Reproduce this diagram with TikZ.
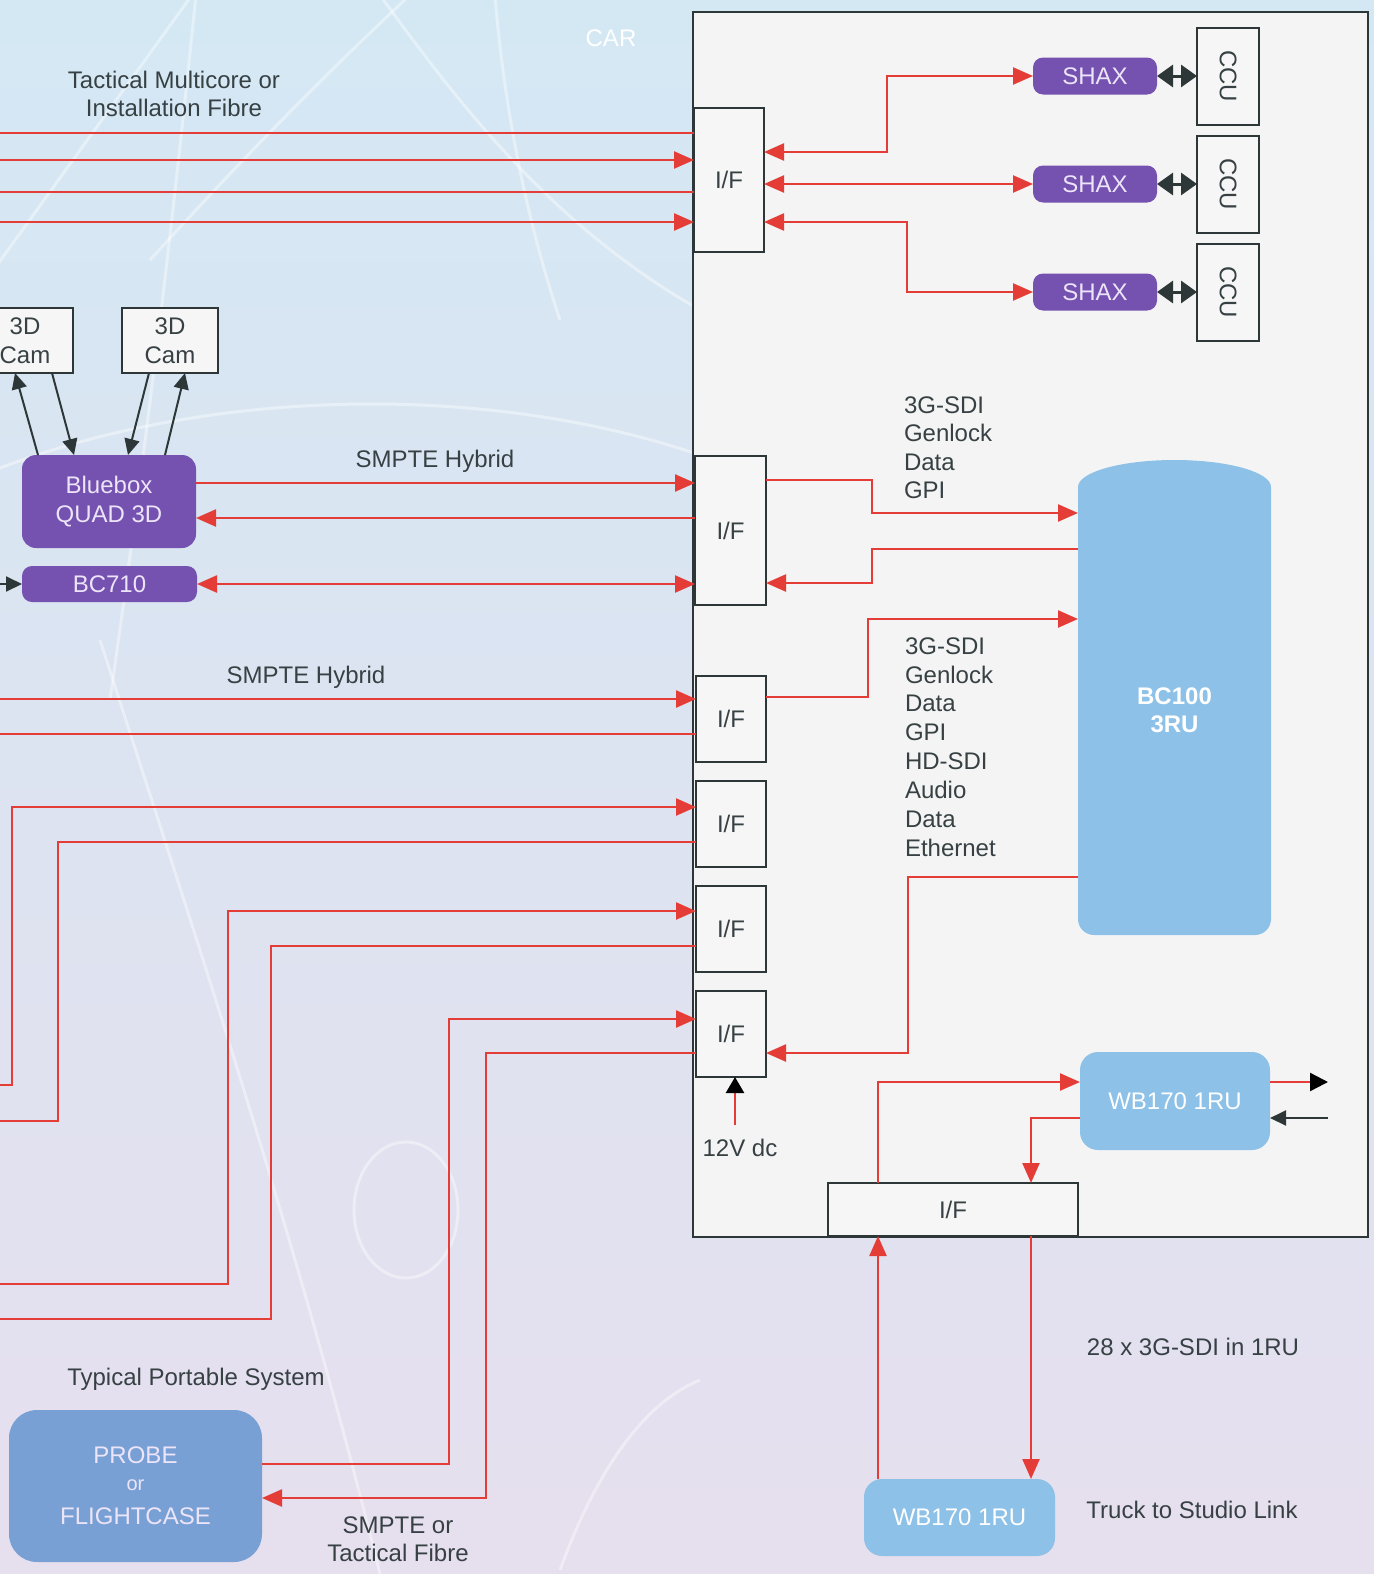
\documentclass[tikz,border=0pt]{standalone}
\usepackage{fontspec}
\setmainfont{Liberation Sans}
\usetikzlibrary{arrows.meta,calc,positioning}
\definecolor{linered}{RGB}{228,60,55}
\definecolor{boxline}{RGB}{45,55,55}
\definecolor{boxfill}{RGB}{246,246,246}
\definecolor{carfill}{RGB}{244,244,244}
\definecolor{shaxpurple}{RGB}{117,81,176}
\definecolor{paletext}{RGB}{236,228,248}
\definecolor{unitblue}{RGB}{141,193,231}
\definecolor{probeblue}{RGB}{121,160,212}
\definecolor{labeltext}{RGB}{55,65,68}
\definecolor{bgtop}{RGB}{212,232,244}
\definecolor{bgbottom}{RGB}{230,223,238}

\begin{document}
\begin{tikzpicture}[x=0.5pt, y=-0.5pt,
  every node/.style={font=\fontsize{12}{14.25}\selectfont, inner sep=0pt, outer sep=0pt},
  ifbox/.style={draw=boxline, fill=boxfill, line width=1pt, text=labeltext},
  shaxbox/.style={fill=shaxpurple, text=paletext, rounded corners=5pt, minimum width=62pt, minimum height=18.5pt},
  ccubox/.style={draw=boxline, fill=boxfill, line width=1pt, text=labeltext, minimum width=31pt, minimum height=48.5pt},
  cambox/.style={draw=boxline, fill=boxfill, line width=1pt, text=labeltext, align=center, minimum width=48pt, minimum height=32.5pt},
  unitbox/.style={fill=unitblue, text=white, rounded corners=9pt, align=center},
  caption/.style={text=labeltext, align=center},
  sigline/.style={draw=linered, line width=1.2pt},
  ctlline/.style={draw=boxline, line width=1pt},
  bgcurve/.style={draw=white, opacity=0.4, line width=1.5pt},
  rtip/.tip={Triangle[length=10pt,width=8.5pt]},
  btip/.tip={Triangle[length=8pt,width=7.5pt]},
  dtip/.tip={Triangle[length=8pt,width=11pt]}
]
\useasboundingbox (0,0) rectangle (1374,1574);
\clip (0,0) rectangle (1374,1574);
\shade[top color=bgtop, bottom color=bgbottom] (0,0) rectangle (1374,1574);

% background strokes
\draw[bgcurve] (196,-5) .. controls (175,200) and (150,420) .. (110,700);
\draw[bgcurve] (192,-5) -- (-5,268);
\draw[bgcurve] (380,-5) .. controls (470,120) and (560,230) .. (700,310);
\draw[bgcurve] (410,-5) .. controls (330,70) and (250,150) .. (150,260);
\draw[bgcurve] (495,-5) .. controls (505,120) and (530,230) .. (560,320);
\draw[bgcurve] (-5,470) .. controls (200,390) and (480,380) .. (700,455);
\draw[bgcurve] (100,640) .. controls (200,950) and (300,1250) .. (380,1574);
\draw[bgcurve] (406,1210) ellipse [x radius=52, y radius=68];
\draw[bgcurve] (560,1570) .. controls (600,1460) and (650,1400) .. (700,1380);

\node[draw=boxline, fill=carfill, line width=1pt, minimum width=337.5pt, minimum height=612.5pt] (car) at (1030.5,624.5) {};
\node[text=white] (carLabel) at (611,38) {CAR};

\node[ifbox, minimum width=35pt, minimum height=72pt] (ifA) at (729,180) {I/F};
\node[ifbox, minimum width=35.5pt, minimum height=74.5pt] (ifB) at (730.5,530.5) {I/F};
\node[ifbox, minimum width=35pt, minimum height=43pt] (ifC) at (731,719) {I/F};
\node[ifbox, minimum width=35pt, minimum height=43pt, below=9.5pt of ifC] (ifD) {I/F};
\node[ifbox, minimum width=35pt, minimum height=43pt, below=9.5pt of ifD] (ifE) {I/F};
\node[ifbox, minimum width=35pt, minimum height=43pt, below=9.5pt of ifE] (ifF) {I/F};
\node[ifbox, minimum width=125pt, minimum height=26.5pt] (ifG) at (953,1209.5) {I/F};

\node[shaxbox] (shaxA) at (1095,76) {SHAX};
\node[shaxbox, below=35.5pt of shaxA] (shaxB) {SHAX};
\node[shaxbox, below=35.5pt of shaxB] (shaxC) {SHAX};
\node[ccubox, right=20pt of shaxA] (ccuA) {\rotatebox{-90}{CCU}};
\node[ccubox, right=20pt of shaxB] (ccuB) {\rotatebox{-90}{CCU}};
\node[ccubox, right=20pt of shaxC] (ccuC) {\rotatebox{-90}{CCU}};

\node[cambox] (camA) at (25,340.5) {3D\\Cam};
\node[cambox, right=24.5pt of camA] (camB) {3D\\Cam};
\node[fill=shaxpurple, text=paletext, rounded corners=7pt, align=center, minimum width=87pt, minimum height=46.5pt] (bluebox) at (109,501.5) {Bluebox\\QUAD 3D};
\node[shaxbox, minimum width=87.5pt, minimum height=18pt] (bcSeven) at (109.5,584) {BC710};

\fill[unitblue] (1078,487) arc[start angle=180, end angle=360, x radius=96.5, y radius=27] -- (1271,919) arc[start angle=0, end angle=90, radius=16] -- (1094,935) arc[start angle=90, end angle=180, radius=16] -- cycle;
\node[text=white, align=center, font=\bfseries\fontsize{12}{14.25}\selectfont, minimum width=96.5pt, minimum height=225pt] (bcHundred) at (1174.5,710) {BC100\\3RU};
\node[unitbox, minimum width=95pt, minimum height=49pt] (wbTop) at (1175,1101) {WB170 1RU};
\node[unitbox, minimum width=95.5pt, minimum height=38.5pt] (wbBottom) at (959.5,1517.5) {WB170 1RU};
\node[unitbox, fill=probeblue, text=paletext, rounded corners=14pt, minimum width=126.5pt, minimum height=76pt] (probe) at (135.5,1486) {PROBE\\[-1pt]{\fontsize{10}{12}\selectfont or}\\[3pt]FLIGHTCASE};

\node[caption] (fibreTop) at (174,94) {Tactical Multicore or\\Installation Fibre};
\node[caption] (hybridTop) at (435,461) {SMPTE Hybrid};
\node[caption] (hybridLow) at (306,677) {SMPTE Hybrid};
\node[caption, align=left, anchor=west] (sigListA) at (904,447.5) {3G-SDI\\Genlock\\Data\\GPI};
\node[caption, align=left, anchor=west, font=\fontsize{12}{14.45}\selectfont] (sigListB) at (905,747) {3G-SDI\\Genlock\\Data\\GPI\\HD-SDI\\Audio\\Data\\Ethernet};
\node[caption] (dcLabel) at (740,1148) {12V dc};
\node[caption] (linkRate) at (1193,1347) {28 x 3G-SDI in 1RU};
\node[caption] (linkName) at (1192,1510) {Truck to Studio Link};
\node[caption] (portLabel) at (196,1379) {Typical Portable System};
\node[caption] (fibreLow) at (398,1539) {SMPTE or\\Tactical Fibre};

% fibre into the car
\draw[sigline] ($(ifA.north west)+(0,25)$) -- ++(-720,0);
\draw[sigline, rtip-] ($(ifA.north west)+(0,52)$) -- ++(-720,0);
\draw[sigline] ($(ifA.north west)+(0,84)$) -- ++(-720,0);
\draw[sigline, rtip-] ($(ifA.north west)+(0,114)$) -- ++(-720,0);
\draw[sigline, rtip-rtip] ($(ifA.north east)+(0,44)$) -- ++(123,0) |- (shaxA.west);
\draw[sigline, rtip-rtip] (shaxB.west -| ifA.east) -- (shaxB.west);
\draw[sigline, rtip-rtip] ($(ifA.north east)+(0,114)$) -- ++(143,0) |- (shaxC.west);
\foreach \n in {A,B,C}
  \draw[ctlline, line width=1.5pt, dtip-dtip] (shax\n.east) -- (ccu\n.west);

% cameras
\draw[ctlline, -btip] ($(bluebox.north west)+(16,0)$) -- ($(camA.south west)+(38,0)$);
\draw[ctlline, -btip] ($(camA.south west)+(75,0)$) -- ($(bluebox.north west)+(52,0)$);
\draw[ctlline, -btip] ($(camB.south west)+(27,0)$) -- ($(bluebox.north west)+(106,0)$);
\draw[ctlline, -btip] ($(bluebox.north west)+(143,0)$) -- ($(camB.south west)+(63,0)$);
\draw[ctlline, -btip] ($(bcSeven.west)+(-30,0)$) -- (bcSeven.west);

% SMPTE hybrid
\draw[sigline, -rtip] ($(bluebox.north east)+(0,28)$) -- ($(ifB.north west)+(0,27)$);
\draw[sigline, -rtip] ($(ifB.north west)+(0,62)$) -- ($(bluebox.north east)+(0,63)$);
\draw[sigline, rtip-rtip] (bcSeven.east) -- (bcSeven.east -| ifB.west);
\draw[sigline, -rtip] ($(ifB.north east)+(0,24)$) -- ++(106,0) |- ($(bcHundred.north west)+(0,28)$);
\draw[sigline, -rtip] ($(bcHundred.north west)+(0,64)$) -- ++(-206,0) |- ($(ifB.north east)+(0,127)$);
\draw[sigline, rtip-] ($(ifC.north west)+(0,23)$) -- ++(-720,0);
\draw[sigline] ($(ifC.north west)+(0,58)$) -- ++(-720,0);
\draw[sigline, -rtip] ($(ifC.north east)+(0,21)$) -- ++(102,0) |- ($(bcHundred.north west)+(0,134)$);
\draw[sigline, -rtip] ($(bcHundred.north west)+(0,392)$) -- ++(-170,0) |- ($(ifF.north east)+(0,62)$);

% runs from the left edge
\draw[sigline, rtip-] ($(ifD.north west)+(0,26)$) -- ++(-684,0) -- ++(0,278) -- ++(-40,0);
\draw[sigline] ($(ifD.north west)+(0,61)$) -- ++(-638,0) -- ++(0,279) -- ++(-80,0);
\draw[sigline, rtip-] ($(ifE.north west)+(0,25)$) -- ++(-468,0) -- ++(0,373) -- ++(-250,0);
\draw[sigline] ($(ifE.north west)+(0,60)$) -- ++(-425,0) -- ++(0,373) -- ++(-290,0);
\draw[sigline, -rtip] ($(probe.north east)+(0,54)$) -- ++(187,0) |- ($(ifF.north west)+(0,28)$);
\draw[sigline, -rtip] ($(ifF.north west)+(0,62)$) -- ++(-210,0) |- ($(probe.north east)+(0,88)$);
\draw[sigline, -{Triangle[length=8pt,width=9pt,color=black]}] ($(ifF.south)+(4,48)$) -- ($(ifF.south)+(4,0)$);

% truck to studio
\draw[sigline, -rtip] ($(ifG.north west)+(50,0)$) |- ($(wbTop.north west)+(0,30)$);
\draw[sigline, -rtip] ($(wbTop.north west)+(0,66)$) -| ($(ifG.north west)+(203,0)$);
\draw[sigline, -rtip] ($(wbBottom.north west)+(14,0)$) -- ($(ifG.south west)+(50,0)$);
\draw[sigline, -rtip] ($(ifG.south west)+(203,0)$) -- ($(wbBottom.north west)+(167,0)$);
\draw[sigline, -{Triangle[length=9pt,width=9pt,color=black]}] ($(wbTop.north east)+(0,30)$) -- ++(58,0);
\draw[ctlline, -btip] ($(wbTop.north east)+(58,66)$) -- ($(wbTop.north east)+(0,66)$);
\end{tikzpicture}
\end{document}
